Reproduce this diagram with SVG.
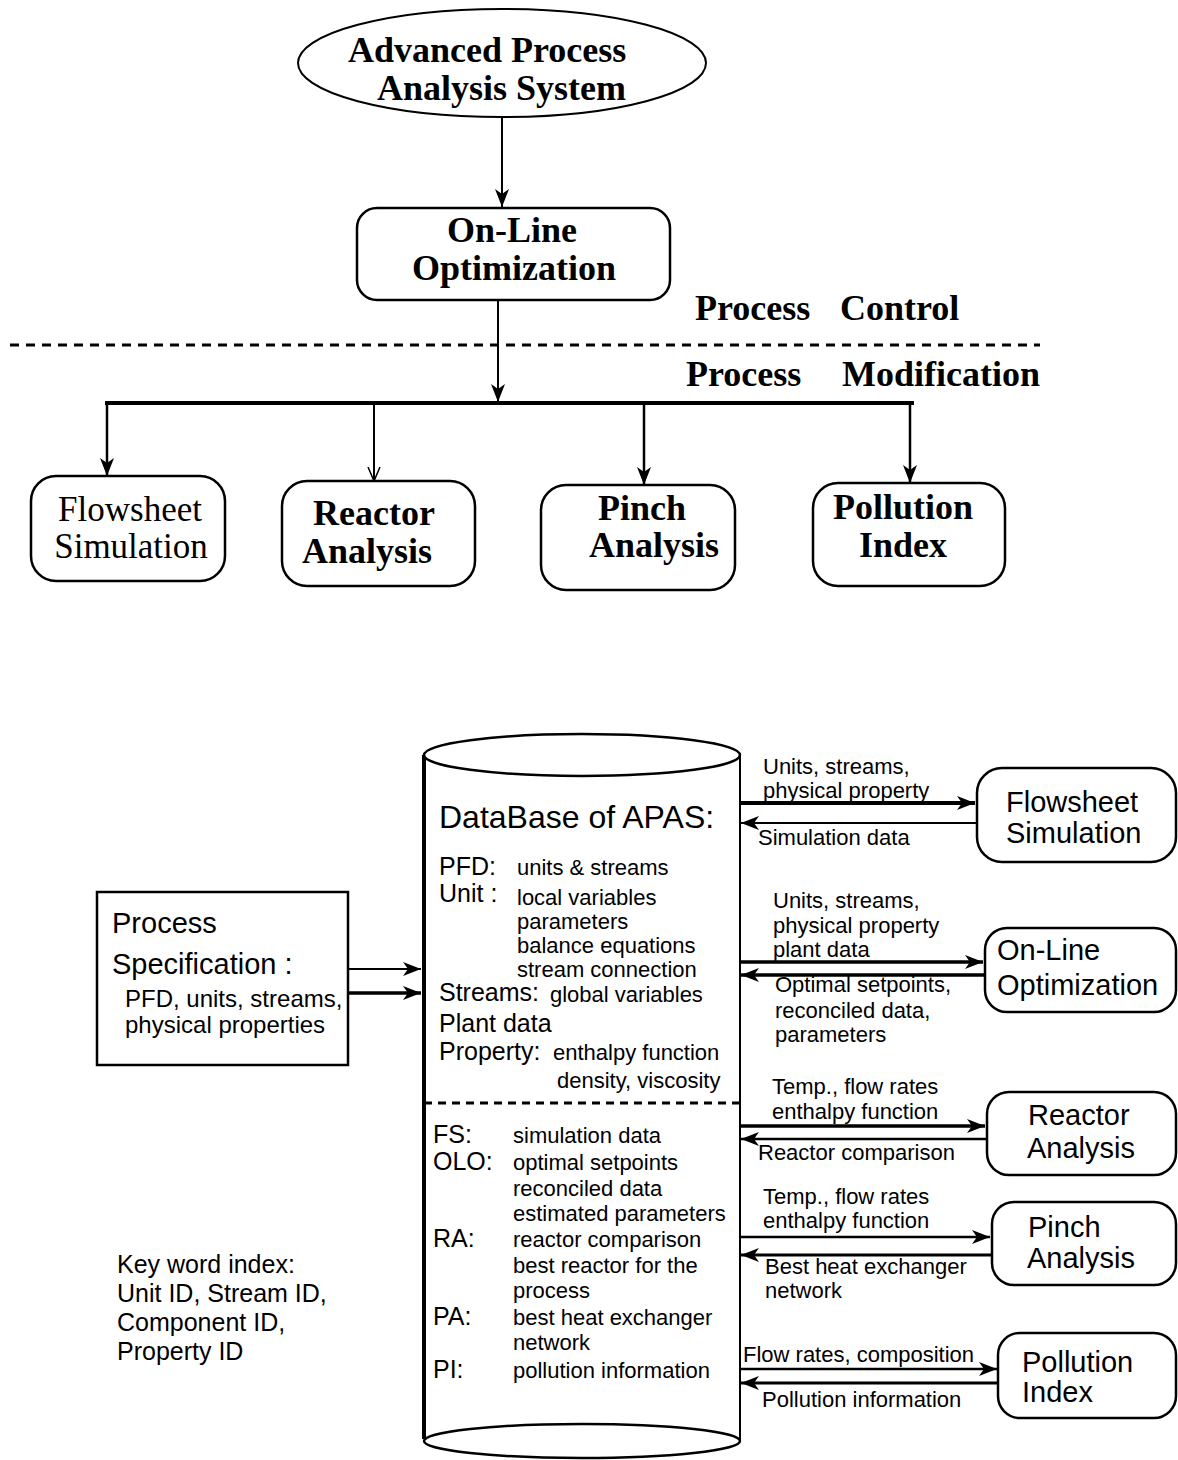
<svg xmlns="http://www.w3.org/2000/svg" width="1178" height="1460" viewBox="0 0 1178 1460">
<style>
.serifB{font-family:"Liberation Serif","Times New Roman",serif;font-weight:bold;font-size:36px;fill:#000}
.serif{font-family:"Liberation Serif","Times New Roman",serif;font-size:35px;fill:#000}
.box{fill:#fff;stroke:#000;stroke-width:2.5}
.sans{font-family:"Liberation Sans",Arial,sans-serif;fill:#000}
.s23{font-size:22px}
.s22{font-size:22px}
.s25{font-size:25px}
.s26{font-size:25px}
.s29{font-size:29px}
.ln{fill:none;stroke:#000}
</style>
<defs>
<marker id="ah" markerUnits="userSpaceOnUse" markerWidth="20" markerHeight="14" refX="18" refY="7" orient="auto">
<path d="M0,0 L18,7 L0,14 L5,7 z" fill="#000"/>
</marker>
<marker id="ao" markerUnits="userSpaceOnUse" markerWidth="16" markerHeight="14" refX="14" refY="7" orient="auto">
<path d="M0,1 L14,7 L0,13" fill="none" stroke="#000" stroke-width="1.5"/>
</marker>
</defs>
<rect width="1178" height="1460" fill="#fff"/>

<!-- connectors -->
<g id="connectors">
<line class="ln" x1="502" y1="117" x2="502" y2="207" stroke-width="2" marker-end="url(#ah)"/>
<line class="ln" x1="498" y1="300" x2="498" y2="402" stroke-width="2" marker-end="url(#ah)"/>
<line class="ln" x1="10" y1="345" x2="1040" y2="345" stroke-width="3" stroke-dasharray="9 7"/>
<line class="ln" x1="105" y1="403" x2="914" y2="403" stroke-width="4"/>
<line class="ln" x1="107" y1="403" x2="107" y2="476" stroke-width="2.5" marker-end="url(#ah)"/>
<line class="ln" x1="374" y1="403" x2="374" y2="481" stroke-width="2" marker-end="url(#ao)"/>
<line class="ln" x1="644" y1="403" x2="644" y2="485" stroke-width="2.5" marker-end="url(#ah)"/>
<line class="ln" x1="910" y1="403" x2="910" y2="483" stroke-width="2.5" marker-end="url(#ah)"/>

<line class="ln" x1="348" y1="969" x2="421" y2="969" stroke-width="2" marker-end="url(#ah)"/>
<line class="ln" x1="348" y1="993" x2="421" y2="993" stroke-width="3.5" marker-end="url(#ah)"/>

<line class="ln" x1="740" y1="803" x2="975" y2="803" stroke-width="4" marker-end="url(#ah)"/>
<line class="ln" x1="977" y1="823" x2="741" y2="823" stroke-width="2" marker-end="url(#ah)"/>
<line class="ln" x1="740" y1="962" x2="983" y2="962" stroke-width="3.5" marker-end="url(#ah)"/>
<line class="ln" x1="985" y1="975" x2="741" y2="975" stroke-width="3.5" marker-end="url(#ah)"/>
<line class="ln" x1="740" y1="1126" x2="985" y2="1126" stroke-width="3.5" marker-end="url(#ah)"/>
<line class="ln" x1="987" y1="1139" x2="741" y2="1139" stroke-width="2.5" marker-end="url(#ah)"/>
<line class="ln" x1="740" y1="1237" x2="990" y2="1237" stroke-width="2.5" marker-end="url(#ah)"/>
<line class="ln" x1="992" y1="1255" x2="741" y2="1255" stroke-width="3" marker-end="url(#ah)"/>
<line class="ln" x1="740" y1="1369" x2="997" y2="1369" stroke-width="2.5" marker-end="url(#ah)"/>
<line class="ln" x1="998" y1="1383" x2="741" y2="1383" stroke-width="3" marker-end="url(#ah)"/>
</g>

<g id="apas">
<ellipse cx="502" cy="63" rx="204" ry="54" fill="#fff" stroke="#000" stroke-width="2"/>
<text class="serifB" x="348" y="62">Advanced Process</text>
<text class="serifB" x="377" y="100">Analysis System</text>
</g>

<g id="olo-top">
<rect class="box" x="357" y="208" width="313" height="92" rx="20"/>
<text class="serifB" x="512" y="242" text-anchor="middle">On-Line</text>
<text class="serifB" x="514" y="280" text-anchor="middle">Optimization</text>
</g>

<g id="labels-top">
<text class="serifB"><tspan x="695" y="320">Process</tspan><tspan x="840" y="320">Control</tspan></text>
<text class="serifB"><tspan x="686" y="386">Process</tspan><tspan x="842" y="386">Modification</tspan></text>
</g>

<g id="fs-top">
<rect class="box" x="31" y="476" width="194" height="105" rx="25"/>
<text class="serif" x="130" y="521" text-anchor="middle">Flowsheet</text>
<text class="serif" x="131" y="558" text-anchor="middle">Simulation</text>
</g>
<g id="ra-top">
<rect class="box" x="282" y="481" width="193" height="105" rx="25"/>
<text class="serifB" x="374" y="525" text-anchor="middle">Reactor</text>
<text class="serifB" x="367" y="563" text-anchor="middle">Analysis</text>
</g>
<g id="pa-top">
<rect class="box" x="541" y="485" width="194" height="105" rx="25"/>
<text class="serifB" x="642" y="520" text-anchor="middle">Pinch</text>
<text class="serifB" x="654" y="557" text-anchor="middle">Analysis</text>
</g>
<g id="pi-top">
<rect class="box" x="813" y="483" width="192" height="103" rx="25"/>
<text class="serifB" x="903" y="519" text-anchor="middle">Pollution</text>
<text class="serifB" x="903" y="557" text-anchor="middle">Index</text>
</g>

<g id="database">
<line class="ln" x1="424" y1="755" x2="424" y2="1439" stroke-width="4"/>
<line class="ln" x1="740" y1="755" x2="740" y2="1441" stroke-width="2"/>
<ellipse cx="582" cy="755" rx="158" ry="21" fill="#fff" stroke="#000" stroke-width="2.5"/>
<ellipse cx="582" cy="1441" rx="158" ry="17" fill="#fff" stroke="#000" stroke-width="2.5"/>
<line class="ln" x1="424" y1="1103" x2="740" y2="1103" stroke-width="3" stroke-dasharray="8 6"/>
<text class="sans" x="439" y="828" font-size="32">DataBase of APAS:</text>
<text class="sans s25" x="439" y="875">PFD:</text>
<text class="sans s22" x="517" y="875">units &amp; streams</text>
<text class="sans s25" x="439" y="902">Unit :</text>
<text class="sans s22" x="517" y="905">local variables</text>
<text class="sans s22" x="517" y="929">parameters</text>
<text class="sans s22" x="517" y="953">balance equations</text>
<text class="sans s22" x="517" y="977">stream connection</text>
<text class="sans s25" x="439" y="1001">Streams:</text>
<text class="sans s22" x="550" y="1002">global variables</text>
<text class="sans s25" x="439" y="1032">Plant data</text>
<text class="sans s25" x="439" y="1060">Property:</text>
<text class="sans s22" x="553" y="1060">enthalpy function</text>
<text class="sans s22" x="557" y="1088">density, viscosity</text>
<text class="sans s26" x="433" y="1143">FS:</text>
<text class="sans s23" x="513" y="1143">simulation data</text>
<text class="sans s26" x="433" y="1170">OLO:</text>
<text class="sans s23" x="513" y="1170">optimal setpoints</text>
<text class="sans s23" x="513" y="1196">reconciled data</text>
<text class="sans s23" x="513" y="1221">estimated parameters</text>
<text class="sans s26" x="433" y="1247">RA:</text>
<text class="sans s23" x="513" y="1247">reactor comparison</text>
<text class="sans s23" x="513" y="1273">best reactor for the</text>
<text class="sans s23" x="513" y="1298">process</text>
<text class="sans s26" x="433" y="1325">PA:</text>
<text class="sans s23" x="513" y="1325">best heat exchanger</text>
<text class="sans s23" x="513" y="1350">network</text>
<text class="sans s26" x="433" y="1378">PI:</text>
<text class="sans s23" x="513" y="1378">pollution information</text>
</g>

<g id="process-spec">
<rect x="97" y="892" width="251" height="173" fill="#fff" stroke="#000" stroke-width="2.5"/>
<text class="sans s29" x="112" y="933">Process</text>
<text class="sans s29" x="112" y="974">Specification :</text>
<text class="sans" font-size="24" x="125" y="1007">PFD, units, streams,</text>
<text class="sans" font-size="24" x="125" y="1033">physical properties</text>
</g>

<g id="keyword">
<text class="sans s25" x="117" y="1273">Key word index:</text>
<text class="sans s25" x="117" y="1302">Unit ID, Stream ID,</text>
<text class="sans s25" x="117" y="1331">Component ID,</text>
<text class="sans s25" x="117" y="1360">Property ID</text>
</g>

<g id="fs-box">
<rect class="box" x="977" y="768" width="199" height="94" rx="25" stroke-width="3.5"/>
<text class="sans s29" x="1006" y="812">Flowsheet</text>
<text class="sans s29" x="1006" y="843">Simulation</text>
</g>
<g id="olo-box">
<rect class="box" x="985" y="928" width="191" height="84" rx="22"/>
<text class="sans s29" x="997" y="960">On-Line</text>
<text class="sans s29" x="997" y="995">Optimization</text>
</g>
<g id="ra-box">
<rect class="box" x="987" y="1092" width="189" height="83" rx="22"/>
<text class="sans s29" x="1028" y="1125">Reactor</text>
<text class="sans s29" x="1027" y="1158">Analysis</text>
</g>
<g id="pa-box">
<rect class="box" x="992" y="1202" width="184" height="83" rx="22"/>
<text class="sans s29" x="1028" y="1237">Pinch</text>
<text class="sans s29" x="1027" y="1268">Analysis</text>
</g>
<g id="pi-box">
<rect class="box" x="998" y="1333" width="178" height="85" rx="22" stroke-width="3"/>
<text class="sans s29" x="1022" y="1372">Pollution</text>
<text class="sans s29" x="1022" y="1402">Index</text>
</g>

<g id="edge-labels">
<text class="sans s23" x="763" y="774">Units, streams,</text>
<text class="sans s23" x="763" y="798">physical property</text>
<text class="sans s23" x="758" y="845">Simulation data</text>
<text class="sans s23" x="773" y="908">Units, streams,</text>
<text class="sans s23" x="773" y="933">physical property</text>
<text class="sans s23" x="773" y="957">plant data</text>
<text class="sans s23" x="775" y="992">Optimal setpoints,</text>
<text class="sans s23" x="775" y="1018">reconciled data,</text>
<text class="sans s23" x="775" y="1042">parameters</text>
<text class="sans s23" x="772" y="1094">Temp., flow rates</text>
<text class="sans s23" x="772" y="1119">enthalpy function</text>
<text class="sans s23" x="758" y="1160">Reactor comparison</text>
<text class="sans s23" x="763" y="1204">Temp., flow rates</text>
<text class="sans s23" x="763" y="1228">enthalpy function</text>
<text class="sans s23" x="765" y="1274">Best heat exchanger</text>
<text class="sans s23" x="765" y="1298">network</text>
<text class="sans s23" x="743" y="1362">Flow rates, composition</text>
<text class="sans s23" x="762" y="1407">Pollution information</text>
</g>
</svg>
